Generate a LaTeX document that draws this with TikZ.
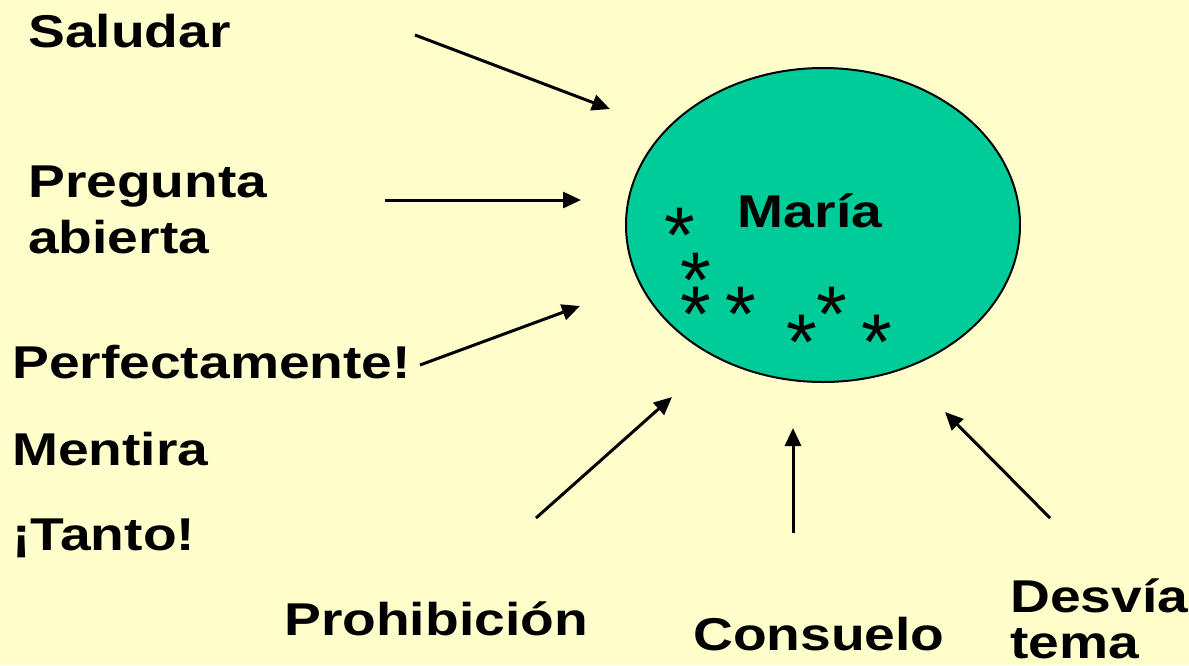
\documentclass[tikz,border=0pt]{standalone}
\usepackage{xcolor}
\usepackage{fontspec}
\setmainfont{Liberation Sans}
\newfontfamily\slidefont[FakeStretch=1.2]{Liberation Sans}
\usepackage{tikz}
\usetikzlibrary{arrows.meta,shapes.geometric}

\definecolor{paper}{HTML}{FFFFCC}
\definecolor{sea}{HTML}{00CC99}

\begin{document}
\begin{tikzpicture}[
	lbl/.style={anchor = base west, inner sep=0pt, font=\slidefont\fontsize{46}{56}\selectfont\bfseries},
	star/.style={anchor = base, inner sep=0pt, font=\fontsize{79}{79}\selectfont},
	arr/.style={line width=3pt, -{Triangle[length=18pt,width=16pt]}}]
	\fill[paper] (0pt, 0pt) rectangle (1189pt, -665pt);
	\useasboundingbox (0pt, 0pt) rectangle (1189pt, -665pt);
	% the circle
	\node[ellipse, draw, line width=2pt, fill=sea, minimum width=394pt, minimum height=314pt] (maria) at (823pt, -225pt) {};
	\node[anchor = base, inner sep=0pt, font=\slidefont\fontsize{46}{56}\selectfont\bfseries] (name) at (810pt, -227pt) {María};
	\node[star] (s1) at (680pt, -262pt) {*};
	\node[star] (s2) at (696pt, -307pt) {*};
	\node[star] (s3) at (696pt, -341pt) {*};
	\node[star] (s4) at (741pt, -341pt) {*};
	\node[star] (s5) at (832pt, -341pt) {*};
	\node[star] (s6) at (802pt, -369pt) {*};
	\node[star] (s7) at (877pt, -369pt) {*};
	% labels
	\node[lbl] (saludar) at (28pt, -47pt) {Saludar};
	\node[lbl] (pregunta) at (28pt, -197pt) {Pregunta};
	\node[lbl] (abierta) at (28pt, -253pt) {abierta};
	\node[lbl] (perfecto) at (12pt, -378pt) {Perfectamente!};
	\node[lbl] (mentira) at (12pt, -465pt) {Mentira};
	\node[lbl] (tanto) at (12pt, -550pt) {¡Tanto!};
	\node[lbl] (prohib) at (284pt, -635pt) {Prohibición};
	\node[lbl] (consuelo) at (693pt, -650pt) {Consuelo};
	\node[lbl] (desvia) at (1010pt, -612pt) {Desvía};
	\node[lbl] (tema) at (1010pt, -658pt) {tema};
	% arrow ends
	\coordinate (a1) at (415pt, -35pt);   \coordinate (b1) at (610pt, -109pt);
	\coordinate (a2) at (385pt, -200pt);  \coordinate (b2) at (581pt, -200pt);
	\coordinate (a3) at (420pt, -365pt);  \coordinate (b3) at (580pt, -306pt);
	\coordinate (a4) at (536pt, -518pt);  \coordinate (b4) at (672pt, -397pt);
	\coordinate (a5) at (793pt, -533pt);  \coordinate (b5) at (793pt, -428pt);
	\coordinate (a6) at (1050pt, -518pt); \coordinate (b6) at (945pt, -412pt);
	\draw[arr] (a1) -- (b1);
	\draw[arr] (a2) -- (b2);
	\draw[arr] (a3) -- (b3);
	\draw[arr] (a4) -- (b4);
	\draw[arr] (a5) -- (b5);
	\draw[arr] (a6) -- (b6);
\end{tikzpicture}
\end{document}
